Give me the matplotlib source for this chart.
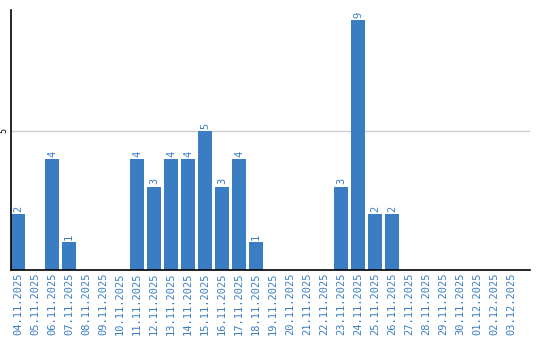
import matplotlib
matplotlib.use("Agg")
import matplotlib.pyplot as plt
import numpy as np

dates = ['04.11.2025', '05.11.2025', '06.11.2025', '07.11.2025', '08.11.2025',
         '09.11.2025', '10.11.2025', '11.11.2025', '12.11.2025', '13.11.2025',
         '14.11.2025', '15.11.2025', '16.11.2025', '17.11.2025', '18.11.2025',
         '19.11.2025', '20.11.2025', '21.11.2025', '22.11.2025', '23.11.2025',
         '24.11.2025', '25.11.2025', '26.11.2025', '27.11.2025', '28.11.2025',
         '29.11.2025', '30.11.2025', '01.12.2025', '02.12.2025', '03.12.2025']
counts = [2, 0, 4, 1, 0, 0, 0, 4, 3, 4, 4, 5, 3, 4, 1,
          0, 0, 0, 0, 3, 9, 2, 2, 0, 0, 0, 0, 0, 0, 0]

blue = '#3b7dc3'
plt.rcParams['font.family'] = 'DejaVu Sans Mono'

fig = plt.figure(figsize=(5.4, 3.4), dpi=100)
ax = fig.add_axes([11 / 540, 70 / 340, 519 / 540, 260 / 340])

x = np.arange(len(dates))
ax.bar(x, counts, width=0.82, color=blue, zorder=2)

for xi, v in zip(x, counts):
    if v > 0:
        ax.text(xi, v + 0.08, str(v), rotation=90, ha='center', va='bottom',
                fontsize=7.5, color=blue)

ax.set_xlim(-0.41, 30.12)
ax.set_ylim(0, 9.35)
ax.set_yticks([5])
ax.set_yticklabels(['5'], rotation=90, fontsize=6, va='center')
ax.tick_params(axis='y', length=0, pad=2)
ax.grid(axis='y', color='#cccccc', linewidth=1, zorder=0)

ax.set_xticks(x)
ax.set_xticklabels(dates, rotation=90, fontsize=7.5, color=blue)
ax.tick_params(axis='x', length=0, pad=2)

for s in ['top', 'right']:
    ax.spines[s].set_visible(False)
ax.spines['left'].set_linewidth(1.2)
ax.spines['bottom'].set_linewidth(1.2)

plt.savefig('out.png', dpi=100, facecolor='white')
